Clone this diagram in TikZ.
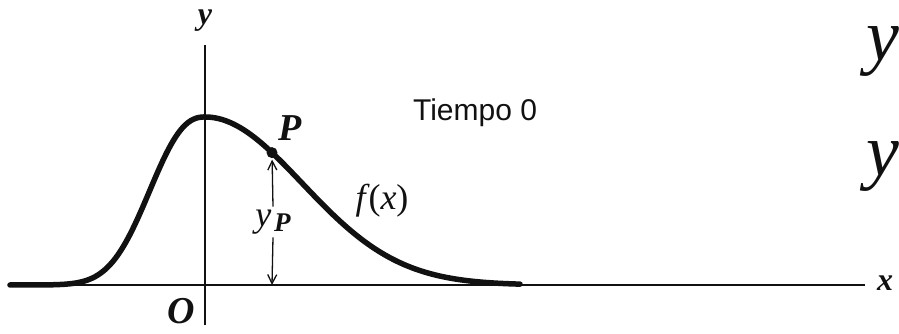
\documentclass[tikz,border=0pt]{standalone}
\usepackage{fontspec}
\setmainfont{Liberation Serif}
\newfontfamily\tiemposans{Liberation Sans}
\usepackage{xcolor}
\usetikzlibrary{arrows.meta, calc}
\definecolor{ink}{HTML}{111111}

\begin{document}
\begin{tikzpicture}[x=1pt, y=1pt,
    axisline/.style={ink, line width=1.8pt},
    pulse/.style={ink, line width=5.5pt, line cap=round, line join=round},
    lbl/.style={ink, inner sep=0pt, font=\fontsize{34}{36}\selectfont\bfseries\itshape},
    fnlbl/.style={ink, inner sep=0pt, font=\fontsize{36}{38}\selectfont\itshape},
    bigy/.style={ink, inner sep=0pt, anchor=base west, font=\fontsize{74}{74}\selectfont\itshape},
    ypline/.style={ink, line width=1.3pt, -{Straight Barb[length=9pt, width=9pt, line width=1.3pt]}}]
  \useasboundingbox (-205,-49) rectangle (694,285);
  % axes
  \coordinate (O) at (0,0);
  \coordinate (xl) at (-195,0);
  \coordinate (xr) at (660,0);
  \coordinate (yb) at (0,-40);
  \coordinate (yt) at (0,240);
  \draw[axisline] (xl) -- (xr);
  \draw[axisline, line width=2pt] (yb) -- (yt);
  % initial pulse f(x): steeper on the left, longer tail on the right
  \draw[pulse] plot[smooth, samples=70, domain=-195:-0.01] (\x, {168*exp(-(abs(\x)/69.5)^2.4)})
    -- plot[smooth, samples=90, domain=0:315] (\x, {168*exp(-0.5*(\x/97)*(\x/97))});
  \coordinate (P) at (67,{168*exp(-0.5*(67/97)*(67/97))});
  \coordinate (Pfoot) at (67,0);
  \fill[ink] (P) circle (5.5pt);
  % height of P
  \node[fnlbl] (yP) at (68,63) {y\kern3pt\raisebox{-5pt}{\fontsize{27}{27}\selectfont\bfseries P}};
  \draw[ypline, shorten >=7pt] (yP.north) ++(0,3) -- (P);
  \draw[ypline] (yP.south) ++(0,-3) -- (Pfoot);
  % labels
  \node[lbl, font=\fontsize{32}{34}\selectfont\bfseries\itshape] (ylab) at (0,264) {y};
  \node[lbl, font=\fontsize{38}{40}\selectfont\bfseries\itshape] (olab) at (-24,-26) {O};
  \node[lbl, font=\fontsize{38}{40}\selectfont\bfseries\itshape] (plab) at (85,157) {P};
  \node[lbl, font=\fontsize{32}{34}\selectfont\bfseries\itshape] (xlab) at (680,2) {x};
  \node[fnlbl] (flab) at (177,84) {f\kern3pt\textup{(}x\textup{)}};
  \node[ink, inner sep=0pt, font=\fontsize{30}{32}\selectfont\tiemposans] (tiempo) at (270,172) {Tiempo 0};
  \node[bigy] (y1) at (661,224) {y};
  \node[bigy] (y2) at (661,109) {y};
\end{tikzpicture}
\end{document}
